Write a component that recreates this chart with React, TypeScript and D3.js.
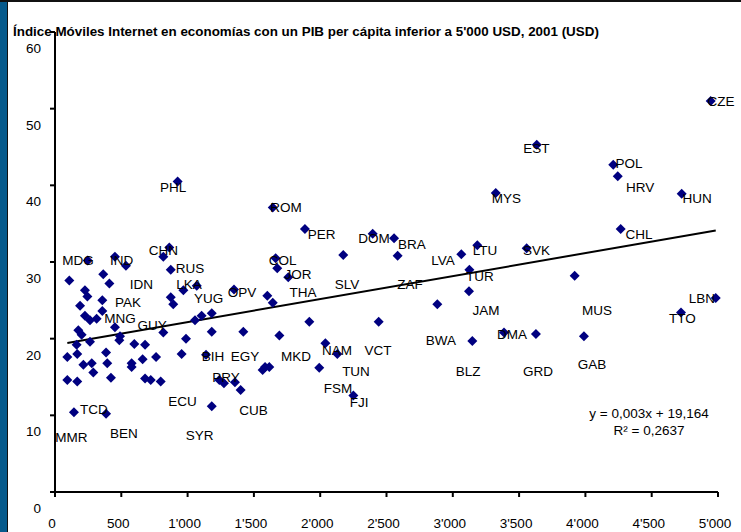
import React, { useRef, useLayoutEffect } from 'react';
import * as d3 from 'd3';

// GDP per capita (USD) and mobile internet index, one entry per economy
const gdpPerCapita = [
    4945, 3633, 4210, 4244, 3324, 4726, 4266, 1885, 2396, 2557,
    2174, 2584, 3064, 3185, 3557, 3125, 3919, 3122, 2883, 1918,
    2441, 3147, 3386, 3627, 3989, 4721, 4983, 2039, 2129, 1993,
    2250, 1664, 1676, 1759, 1601, 1642, 1350, 1056, 1106, 1182,
    968, 1069, 988, 1182, 1420, 1692, 955, 1139, 1584, 1566,
    1616, 1239, 1274, 1357, 1400, 1182, 247, 452, 535, 862,
    817, 873, 925, 1642, 364, 108, 410, 226, 244, 357,
    189, 873, 892, 357, 226, 264, 314, 452, 817, 176,
    201, 490, 485, 264, 163, 598, 679, 93, 168, 385,
    214, 277, 394, 578, 578, 661, 762, 289, 93, 168,
    422, 679, 722, 797, 143, 385
];
const mobileIndex = [
    51.0, 45.3, 42.7, 41.2, 39.0, 38.9, 34.3, 34.3, 33.7, 33.1,
    30.9, 30.8, 31.0, 32.2, 31.8, 29.0, 28.2, 26.2, 24.5, 22.2,
    22.2, 19.7, 20.8, 20.6, 20.3, 23.4, 25.3, 19.4, 18.0, 16.2,
    12.6, 30.5, 29.2, 28.0, 25.6, 24.7, 26.4, 22.4, 23.0, 23.3,
    26.3, 26.9, 20.0, 20.9, 20.9, 20.4, 18.0, 17.9, 16.3, 15.9,
    16.3, 14.6, 14.2, 14.3, 13.3, 11.2, 30.2, 30.7, 29.5, 31.9,
    30.7, 29.0, 40.5, 37.1, 28.4, 27.6, 27.2, 26.3, 25.5, 25.0,
    24.3, 25.4, 24.5, 23.6, 23.0, 22.4, 22.6, 21.5, 20.8, 21.1,
    20.5, 20.3, 19.8, 19.6, 19.2, 19.3, 19.2, 17.6, 18.0, 18.2,
    16.6, 16.8, 16.8, 16.8, 16.3, 17.3, 17.6, 15.6, 14.6, 14.4,
    14.9, 14.8, 14.6, 14.4, 10.4, 10.2
];

// country code labels, placed in data units
const labelCodes = [
    'CZE', 'EST', 'POL', 'HRV', 'MYS', 'HUN', 'CHL', 'PER', 'DOM', 'BRA',
    'LVA', 'LTU', 'SVK', 'TUR', 'ZAF', 'JAM', 'MUS', 'LBN', 'TTO', 'BWA',
    'DMA', 'NAM', 'VCT', 'TUN', 'BLZ', 'GRD', 'GAB', 'FSM', 'FJI', 'COL',
    'JOR', 'THA', 'SLV', 'OPV', 'YUG', 'LKA', 'RUS', 'BIH', 'EGY', 'MKD',
    'PRY', 'ECU', 'CUB', 'ROM', 'PHL', 'CHN', 'MDG', 'IND', 'IDN', 'PAK',
    'MNG', 'GUY', 'TCD', 'BEN', 'SYR', 'MMR'
];
const labelX = [
    5023, 3631, 4329, 4412, 3405, 4842, 4404, 2010, 2406, 2692,
    2926, 3243, 3631, 3205, 2677, 3250, 4087, 4879, 4732, 2911,
    3446, 2127, 2436, 2270, 3115, 3643, 4050, 2134, 2293, 1716,
    1833, 1870, 2202, 1410, 1158, 1011, 1018, 1192, 1433, 1817,
    1290, 962, 1497, 1742, 890, 818, 173, 502, 652, 551,
    490, 732, 294, 520, 1090, 124
];
const labelY = [
    51.0, 44.9, 42.9, 39.8, 38.3, 38.3, 33.6, 33.6, 33.1, 32.3,
    30.2, 31.6, 31.6, 28.2, 27.1, 23.7, 23.7, 25.3, 22.7, 19.8,
    20.6, 18.5, 18.5, 15.7, 15.7, 15.7, 16.7, 13.6, 11.7, 30.2,
    28.4, 26.1, 27.1, 26.1, 25.3, 27.1, 29.2, 17.7, 17.7, 17.7,
    15.0, 11.8, 10.7, 37.1, 39.8, 31.5, 30.2, 30.2, 27.1, 24.8,
    22.7, 21.7, 10.8, 7.7, 7.4, 7.1
];

const xTicks = [0, 500, 1000, 1500, 2000, 2500, 3000, 3500, 4000, 4500, 5000];
const yTicks = [0, 10, 20, 30, 40, 50, 60];

const trendSlope = 0.003;
const trendIntercept = 19.164;
const equationLines = ['y = 0,003x + 19,164', 'R² = 0,2637'];

const title = "Índice Móviles Internet en economías con un PIB per cápita inferior a 5'000 USD, 2001 (USD)";

const App = () => {
    const ref = useRef<SVGSVGElement>(null);

    useLayoutEffect(() => {
        const width = 741;
        const height = 532;
        const svg = d3.select(ref.current);
        svg.selectAll('*').remove();
        svg.attr('width', width).attr('height', height);

        const font = '"Liberation Sans", Arial, sans-serif';
        const fmt = d3.formatLocale({ decimal: ',', thousands: "'", grouping: [3], currency: ['', ''] }).format(',');

        const x = d3.scaleLinear().domain([0, 5000]).range([55, 718]);
        const y = d3.scaleLinear().domain([0, 60]).range([492, 32]);

        svg.append('rect').attr('width', width).attr('height', height).attr('fill', '#fff');

        // frame: blue strip on the left, dark rule along the top
        svg.append('rect').attr('x', 0).attr('y', 0).attr('width', 7).attr('height', height).attr('fill', '#065a8c');
        svg.append('line').attr('x1', 7.5).attr('x2', 7.5).attr('y1', 0).attr('y2', height).attr('stroke', '#111').attr('stroke-width', 1);
        svg.append('line').attr('x1', 0).attr('x2', width).attr('y1', 1).attr('y2', 1).attr('stroke', '#111').attr('stroke-width', 2);

        // axes
        const axisG = svg.append('g').attr('stroke', '#000').attr('stroke-width', 2);
        axisG.append('line').attr('x1', x(0)).attr('x2', x(0)).attr('y1', y(60)).attr('y2', y(0));
        axisG.append('line').attr('x1', x(0) - 5).attr('x2', x(5000)).attr('y1', y(0)).attr('y2', y(0));
        axisG.selectAll('.yt').data(yTicks).enter().append('line')
            .attr('x1', x(0) - 5).attr('x2', x(0))
            .attr('y1', d => y(d)).attr('y2', d => y(d));
        axisG.selectAll('.xt').data(xTicks).enter().append('line')
            .attr('x1', d => x(d)).attr('x2', d => x(d))
            .attr('y1', y(0)).attr('y2', y(0) + 5);

        svg.selectAll('.ylab').data(yTicks).enter().append('text')
            .attr('x', 41).attr('y', d => y(d) + 21)
            .attr('text-anchor', 'end')
            .style('font-family', font).style('font-size', '13.5px')
            .text(d => d);

        // x tick labels sit at the very bottom edge, as in the original
        svg.selectAll('.xlab').data(xTicks).enter().append('text')
            .attr('x', d => x(d) - 3).attr('y', 528)
            .attr('text-anchor', 'middle')
            .style('font-family', font).style('font-size', '13.5px')
            .text(d => fmt(d));

        // linear trend line across the range of the data
        const [xMin, xMax] = d3.extent(gdpPerCapita) as [number, number];
        svg.append('line')
            .attr('x1', x(xMin)).attr('y1', y(trendSlope * xMin + trendIntercept))
            .attr('x2', x(xMax)).attr('y2', y(trendSlope * xMax + trendIntercept))
            .attr('stroke', '#000').attr('stroke-width', 2);

        // diamond markers
        const diamond = d3.symbol().type(d3.symbolSquare).size(50)();
        svg.append('g').selectAll('path')
            .data(gdpPerCapita.map((g, i) => ({ g, v: mobileIndex[i] })))
            .enter().append('path')
            .attr('d', diamond)
            .attr('transform', d => 'translate(' + x(d.g) + ',' + y(d.v) + ') rotate(45)')
            .attr('fill', '#000080');

        // country labels
        svg.append('g').selectAll('text')
            .data(labelCodes.map((c, i) => ({ c, lx: labelX[i], ly: labelY[i] })))
            .enter().append('text')
            .attr('x', d => x(d.lx)).attr('y', d => y(d.ly))
            .attr('dy', '0.36em')
            .attr('text-anchor', 'middle')
            .style('font-family', font).style('font-size', '13.5px')
            .attr('fill', '#000')
            .text(d => d.c);

        // regression equation
        svg.append('g').selectAll('text')
            .data(equationLines).enter().append('text')
            .attr('x', x(4480)).attr('y', (d, i) => y(10.3 - i * 2.25))
            .attr('dy', '0.36em')
            .attr('text-anchor', 'middle')
            .style('font-family', font).style('font-size', '13.5px')
            .text(d => d);

        // title
        svg.append('text')
            .attr('x', 13).attr('y', 36)
            .style('font-family', font).style('font-size', '13.4px').style('font-weight', 'bold')
            .text(title);
    }, []);

    return (
        <svg ref={ref} style={{ position: 'absolute', left: 0, top: 0, display: 'block' }}></svg>
    );
};

export default App;
